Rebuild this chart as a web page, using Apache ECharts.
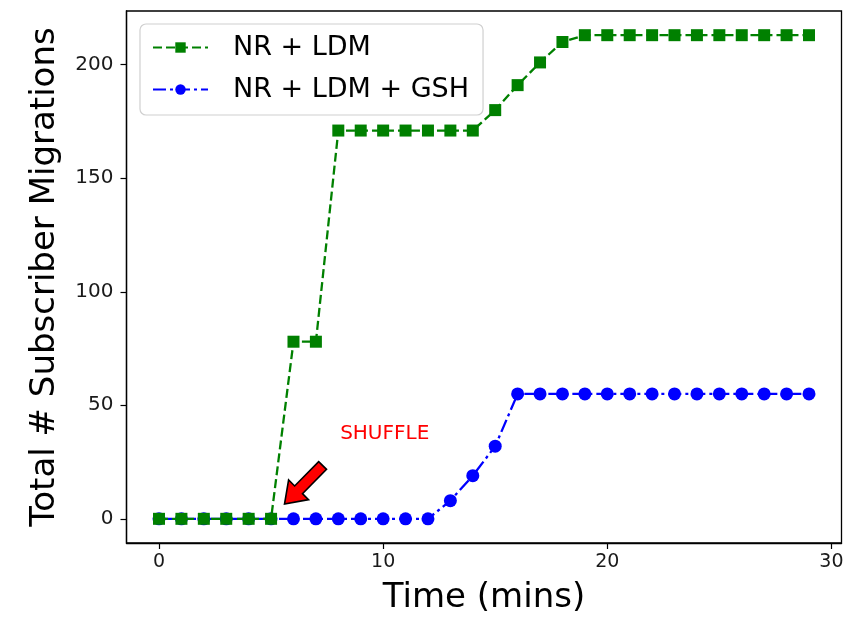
<!DOCTYPE html>
<html><head><meta charset="utf-8">
<script src="https://cdn.jsdelivr.net/npm/echarts@6/dist/echarts.min.js"></script>
<style>html,body{margin:0;padding:0;background:#fff}#c{width:851px;height:620px}</style>
</head><body><div id="c"></div>
<script>
const timeMins = [0,1,2,3,4,5,6,7,8,9,10,11,12,13,14,15,16,17,18,19,20,21,22,23,24,25,26,27,28,29];
const nrLdm = [0,0,0,0,0,0,78,78,171,171,171,171,171,171,171,180,191,201,210,213,213,213,213,213,213,213,213,213,213,213];
const nrLdmGsh = [0,0,0,0,0,0,0,0,0,0,0,0,0,8,19,32,55,55,55,55,55,55,55,55,55,55,55,55,55,55];
const xTicks = [0,10,20,30];
const yTicks = [0,50,100,150,200];
const seriesNames = ['NR + LDM','NR + LDM + GSH'];
const annotationText = 'SHUFFLE';
const annotationPos = [10.07, 37.4];
const arrowTail = [7.3, 23.5];
const arrowHead = [5.6, 6.5];

const FONT = 'DejaVu Sans';
const chart = echarts.init(document.getElementById('c'), null, {renderer:'canvas'});
const pair = (xs, ys) => xs.map((x,i)=>[x, ys[i]]);

chart.setOption({
  animation:false,
  textStyle:{fontFamily:FONT},
  grid:{left:126.5,right:9.5,top:11,bottom:75,show:true,borderColor:'#000',borderWidth:1.3,backgroundColor:'transparent'},
  legend:{
    orient:'vertical', left:140, top:24,
    padding:[10,14,12,12],
    itemWidth:55, itemHeight:13, itemGap:15,
    backgroundColor:'rgba(255,255,255,0.85)', borderColor:'#d0d0d0', borderWidth:1.2, borderRadius:6,
    textStyle:{fontFamily:FONT,fontSize:27,color:'#000',padding:[0,0,0,20]},
    data:seriesNames
  },
  xAxis:{
    type:'value', min:-1.45, max:30.45,
    name:'Time (mins)', nameLocation:'middle', nameGap:38,
    nameTextStyle:{fontFamily:FONT,fontSize:34,color:'#000'},
    axisLine:{show:true,onZero:false,lineStyle:{color:'#000',width:1.3}},
    axisTick:{show:true,length:6,lineStyle:{color:'#000',width:1.2},customValues:xTicks},
    axisLabel:{fontFamily:FONT,fontSize:19,color:'#1a1a1a',margin:10,customValues:xTicks},
    splitLine:{show:false}
  },
  yAxis:{
    type:'value', min:-10.65, max:223.65,
    name:'Total # Subscriber Migrations', nameLocation:'middle', nameGap:64,
    nameTextStyle:{fontFamily:FONT,fontSize:34,color:'#000'},
    axisLine:{show:true,onZero:false,lineStyle:{color:'#000',width:1.3}},
    axisTick:{show:true,length:6,lineStyle:{color:'#000',width:1.2},customValues:yTicks},
    axisLabel:{fontFamily:FONT,fontSize:20,color:'#1a1a1a',margin:13,customValues:yTicks},
    splitLine:{show:false}
  },
  series:[
    {
      name:seriesNames[0], type:'line', data:pair(timeMins,nrLdm),
      symbol:'rect', symbolSize:12, color:'#008000',
      itemStyle:{color:'#008000'},
      lineStyle:{color:'#008000',width:2.3,type:[9,4]},
      z:3
    },
    {
      name:seriesNames[1], type:'line', data:pair(timeMins,nrLdmGsh),
      symbol:'circle', symbolSize:13, color:'#0000ff',
      itemStyle:{color:'#0000ff'},
      lineStyle:{color:'#0000ff',width:2.3,type:[13,4,3,4]},
      z:2
    }
  ]
});

function drawAnno(){
  const T = chart.convertToPixel({gridIndex:0}, arrowTail);
  const H = chart.convertToPixel({gridIndex:0}, arrowHead);
  const P = chart.convertToPixel({gridIndex:0}, annotationPos);
  const dx = H[0]-T[0], dy = H[1]-T[1], L = Math.hypot(dx,dy);
  const d = [dx/L, dy/L], n = [-d[1], d[0]];
  const hl = 20, sw = 5.5, hw = 14;
  const B = [H[0]-d[0]*hl, H[1]-d[1]*hl];
  const pts = [
    [T[0]+n[0]*sw, T[1]+n[1]*sw],
    [B[0]+n[0]*sw, B[1]+n[1]*sw],
    [B[0]+n[0]*hw, B[1]+n[1]*hw],
    H,
    [B[0]-n[0]*hw, B[1]-n[1]*hw],
    [B[0]-n[0]*sw, B[1]-n[1]*sw],
    [T[0]-n[0]*sw, T[1]-n[1]*sw]
  ];
  chart.setOption({graphic:[
    {type:'polygon', z:100, shape:{points:pts}, style:{fill:'#ff0000',stroke:'#000',lineWidth:1.6,lineJoin:'miter'}},
    {type:'text', z:100, x:P[0], y:P[1], style:{text:annotationText, fill:'#ff0000', font:'20px "DejaVu Sans"', align:'center', verticalAlign:'middle'}}
  ]});
}
drawAnno();
</script>
</body></html>
